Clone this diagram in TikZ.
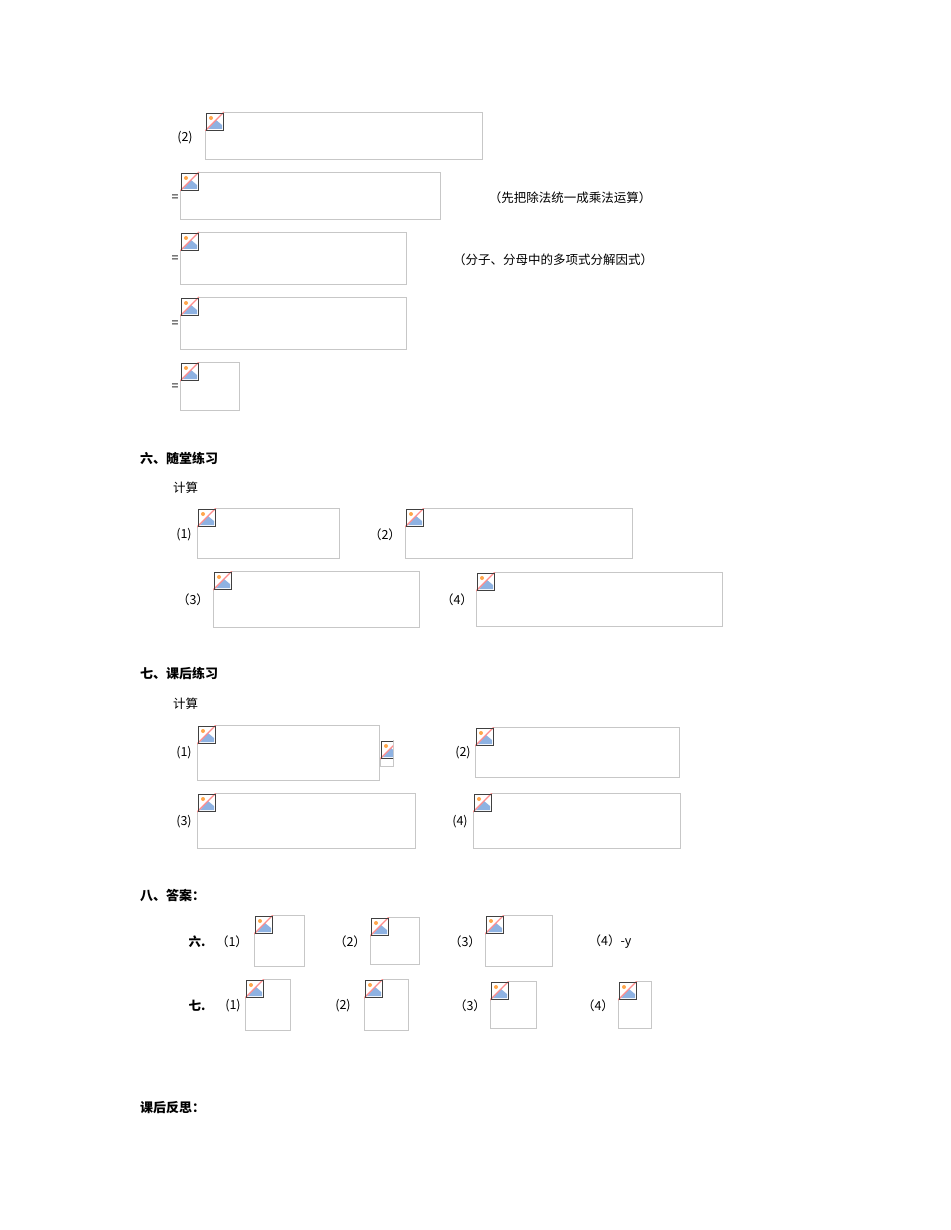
\documentclass[tikz,border=0pt]{standalone}
\usepackage{fontspec}
\newfontfamily\cjk{Noto Sans CJK SC}
\begin{document}
\begin{tikzpicture}[x=1pt,y=-1pt,
  txt/.style={font=\cjk\fontsize{12.5}{14}\selectfont,inner sep=0pt},
  hd/.style={font=\cjk\bfseries\fontsize{13}{15}\selectfont,inner sep=0pt,anchor=west}]
\useasboundingbox (0,0) rectangle (950,1230);
\fill[white] (0,0) rectangle (950,1230);
\newcommand\bimg[4]{%
  \draw[black!22,line width=0.8pt] (#1,#2) rectangle (#3,#4);
  \begin{scope}[shift={(#1,#2)}]
    \clip (0,0) rectangle ({min(19,#3-#1)},19);
    \fill[white] (0,0) rectangle (19,19);
    \fill[cyan!55!blue!45] (3,17) -- (11,8) -- (17,13) -- (17,17) -- cycle;
    \fill[orange!70] (6,6) circle (2);
    \draw[red!45,line width=1.2pt] (0,19) -- (19,0);
    \draw[black!75,line width=0.8pt] (1,1) rectangle (18,18);
  \end{scope}}
\node[txt] (a0) at (185,138) {(2)};
\bimg{205}{112}{482}{159}
\node[txt] (e1) at (175,198) {=}; \bimg{180}{172}{440}{219}
\node[txt] (c1) at (570,198) {（先把除法统一成乘法运算）};
\node[txt] (e2) at (175,259) {=}; \bimg{180}{232}{406}{284}
\node[txt] (c2) at (553,260) {（分子、分母中的多项式分解因式）};
\node[txt] (e3) at (175,324) {=}; \bimg{180}{297}{406}{349}
\node[txt] (e4) at (175,387) {=}; \bimg{180}{362}{239}{410}
\node[hd] (h6) at (140,458) {六、随堂练习};
\node[txt,anchor=west] (j6) at (173,488) {计算};
\node[txt] (p1) at (184,535) {(1)}; \bimg{197}{508}{339}{558}
\node[txt] (p2) at (385,535) {（2）}; \bimg{405}{508}{632}{558}
\node[txt] (p3) at (193,600) {（3）}; \bimg{213}{571}{419}{627}
\node[txt] (p4) at (457,600) {（4）}; \bimg{476}{572}{722}{626}
\node[hd] (h7) at (140,673) {七、课后练习};
\node[txt,anchor=west] (j7) at (173,704) {计算};
\node[txt] (q1) at (184,753) {(1)}; \bimg{197}{725}{379}{780}\bimg{380}{740}{393}{766}
\node[txt] (q2) at (463,753) {(2)}; \bimg{475}{727}{679}{777}
\node[txt] (q3) at (184,822) {(3)}; \bimg{197}{793}{415}{848}
\node[txt] (q4) at (460,822) {(4)}; \bimg{473}{793}{680}{848}
\node[hd] (h8) at (140,895) {八、答案：};
\node[txt,font=\cjk\bfseries\fontsize{12.5}{14}\selectfont] (r6) at (197,942) {六.};
\node[txt] (s1) at (232,942) {（1）}; \bimg{254}{915}{304}{966}
\node[txt] (s2) at (350,942) {（2）}; \bimg{370}{917}{419}{964}
\node[txt] (s3) at (465,942) {（3）}; \bimg{485}{915}{552}{966}
\node[txt] (s4) at (610,942) {（4）-y};
\node[txt,font=\cjk\bfseries\fontsize{12.5}{14}\selectfont] (r7) at (197,1006) {七.};
\node[txt] (t1) at (233,1006) {(1)}; \bimg{245}{979}{290}{1030}
\node[txt] (t2) at (343,1006) {(2)}; \bimg{364}{979}{408}{1030}
\node[txt] (t3) at (470,1006) {（3）}; \bimg{490}{981}{536}{1028}
\node[txt] (t4) at (598,1006) {（4）}; \bimg{618}{981}{651}{1028}
\node[hd] (h9) at (140,1108) {课后反思：};
\end{tikzpicture}
\end{document}
